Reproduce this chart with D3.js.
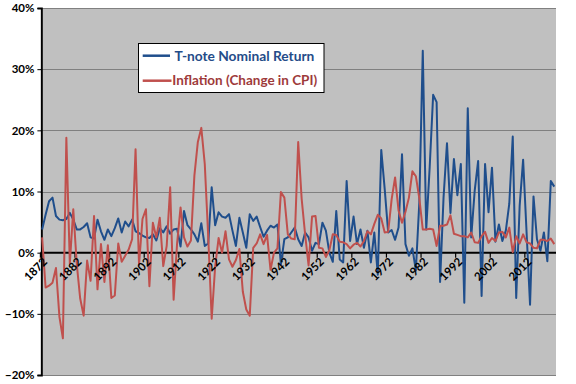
<!DOCTYPE html>
<html>
<head>
<meta charset="utf-8">
<script src="https://cdn.jsdelivr.net/npm/d3@7"></script>
<style>
  body { margin: 0; background: #fff; }
  svg { display: block; font-family: Lato, "Open Sans", sans-serif; }
</style>
</head>
<body>
<svg id="mainsvg" width="576" height="384"></svg>
<script>
// categories: one per year
const years = d3.range(1872, 2021);

// T-note nominal return, % (1872 ... 2020)
const noteReturn = [
  3.8, 6.2, 8.4, 9.0, 6.0, 5.4, 5.3, 5.5, 6.5, 5.4,
  3.8, 3.8, 4.2, 4.8, 2.5, 2.3, 5.4, 3.5, 2.1, 3.8,
  2.7, 4.0, 5.6, 3.3, 5.1, 4.3, 5.4, 3.5, 3.2, 2.8,
  2.5, 2.4, 3.0, 2.0, 4.0, 3.3, 4.3, 3.1, 3.8, 3.9,
  1.0, 6.8, 4.5, 3.8, 3.0, 1.8, 4.8, 1.1, 1.5, 10.7,
  4.5, 6.6, 5.9, 5.7, 6.3, 3.6, 1.1, 5.7, 3.3, 0.8,
  6.3, 5.2, 5.9, 4.2, 2.6, 3.6, 4.4, 4.1, 4.6, -1.9,
  2.2, 2.5, 3.3, 4.1, 2.2, 1.1, 3.3, 2.5, 0.3, 1.6,
  1.4, 4.9, 3.6, 0.0, -1.5, 6.8, -1.1, -1.6, 11.7, 1.9,
  5.9, 1.4, 3.8, 0.8, 3.6, -1.6, 3.3, -3.6, 16.8, 10.4,
  3.3, 3.7, 2.1, 4.1, 16.1, 1.4, -0.5, 0.7, -2.9, 8.2,
  33.0, 3.8, 14.0, 25.8, 24.6, -4.8, 9.0, 17.9, 6.5, 15.3,
  9.4, 14.5, -8.2, 23.6, 2.5, 10.1, 15.0, -7.1, 14.5, 6.6,
  13.9, 1.8, 4.6, 1.9, 3.6, 8.0, 19.0, -7.4, 7.7, 15.2,
  3.3, -8.5, 9.2, 2.2, 0.3, 3.3, -1.4, 11.7, 10.8
];

// Inflation (change in CPI), % (1872 ... 2020)
const inflation = [
  2.5, -5.7, -5.4, -4.9, -2.5, -10.5, -14.0, 18.8, -1.8, 7.1,
  -1.8, -7.5, -10.3, -1.3, -4.6, 6.0, -6.0, 1.4, -4.8, 1.2,
  -7.4, -7.0, 1.5, -1.5, -0.5, 0.5, 2.2, 16.9, -2.0, 5.5,
  7.1, -5.5, 4.9, 2.5, 5.7, -2.2, 1.1, 10.7, -7.7, 1.5,
  7.4, 2.5, 1.0, 2.0, 12.6, 18.1, 20.4, 14.5, 2.6, -10.8,
  -2.3, 2.4, 0.0, 3.5, -1.1, -2.3, -1.2, 0.6, -6.4, -9.3,
  -10.3, 0.8, 1.5, 3.0, 1.4, 2.9, -2.8, 0.0, 0.7, 9.9,
  9.0, 3.0, 2.3, 2.2, 18.1, 8.8, 3.0, -2.1, 5.9, 6.0,
  0.8, 0.7, -0.7, 0.4, 3.0, 2.9, 1.8, 1.7, 1.4, 0.7,
  1.3, 1.6, 1.0, 1.9, 3.5, 3.0, 4.7, 6.2, 5.6, 3.3,
  3.4, 8.7, 12.3, 6.9, 4.9, 6.7, 9.0, 13.3, 12.5, 8.9,
  3.8, 3.8, 3.9, 3.8, 1.1, 4.4, 4.4, 4.6, 6.1, 3.1,
  2.9, 2.7, 2.7, 2.5, 3.3, 1.7, 1.6, 2.7, 3.4, 1.6,
  2.4, 1.9, 3.3, 3.4, 2.5, 4.1, 0.1, 2.7, 1.5, 3.0,
  1.7, 1.5, 0.8, 0.7, 2.1, 2.1, 1.9, 2.3, 1.4
];

// tick labels
const yTicks = [-0.2, -0.1, 0, 0.1, 0.2, 0.3, 0.4];
const xTickYears = [1872, 1882, 1892, 1902, 1912, 1922, 1932, 1942, 1952, 1962, 1972, 1982, 1992, 2002, 2012];

const seriesNames = ["T-note Nominal Return", "Inflation (Change in CPI)"];
const seriesColors = ["#1F4E8C", "#C0504D"];
const legendTextColors = ["#244C88", "#9E3A3A"];

const svg = d3.select('#mainsvg');
const myWidth = +svg.attr('width');
const myHeight = +svg.attr('height');

const margin = { top: 8, right: 20, bottom: 9, left: 40.4 };
const innerWidth = myWidth - margin.left - margin.right;
const innerHeight = myHeight - margin.top - margin.bottom;

// scales
const x = d3.scaleBand()
  .domain(years)
  .range([margin.left, margin.left + innerWidth]);
const xc = (yr) => x(yr) + x.bandwidth() / 2;

const y = d3.scaleLinear()
  .domain([-0.2, 0.4])
  .range([margin.top + innerHeight, margin.top]);

// plot background
svg.append("rect")
  .attr("x", margin.left)
  .attr("y", margin.top)
  .attr("width", innerWidth)
  .attr("height", innerHeight)
  .attr("fill", "#C0C0C0");

// gridlines
svg.append("g")
  .selectAll("line")
  .data(yTicks.filter(d => d !== 0))
  .join("line")
  .attr("x1", margin.left)
  .attr("x2", margin.left + innerWidth)
  .attr("y1", d => Math.round(y(d)) + 0.5)
  .attr("y2", d => Math.round(y(d)) + 0.5)
  .attr("stroke", "#808080")
  .attr("stroke-width", 1);

// y axis
const yAxis = svg.append("g")
  .attr("transform", `translate(${margin.left + 1},0)`)
  .call(d3.axisLeft(y).tickValues(yTicks).tickFormat(d3.format(".0%")).tickSize(4).tickPadding(3));
yAxis.select(".domain").attr("stroke", "#000").attr("stroke-width", 1.8);
yAxis.selectAll(".tick line").attr("stroke", "#000").attr("stroke-width", 1);
yAxis.selectAll("text")
  .attr("font-family", "Lato, sans-serif")
  .attr("font-size", 11.5)
  .attr("font-weight", "bold")
  .attr("fill", "#000");

// zero line + category ticks
svg.append("line")
  .attr("x1", margin.left)
  .attr("x2", margin.left + innerWidth)
  .attr("y1", y(0))
  .attr("y2", y(0))
  .attr("stroke", "#000")
  .attr("stroke-width", 2);

svg.append("g")
  .selectAll("line")
  .data(xTickYears)
  .join("line")
  .attr("x1", d => x(d))
  .attr("x2", d => x(d))
  .attr("y1", y(0))
  .attr("y2", y(0) + 5)
  .attr("stroke", "#000")
  .attr("stroke-width", 1.2);

// lines
const line = d3.line()
  .x((d, i) => xc(years[i]))
  .y(d => y(d / 100));

[noteReturn, inflation].forEach((series, k) => {
  svg.append("path")
    .datum(series)
    .attr("d", line)
    .attr("fill", "none")
    .attr("stroke", seriesColors[k])
    .attr("stroke-width", 2)
    .attr("stroke-linejoin", "round");
});

// year labels (drawn over the lines)
svg.append("g")
  .selectAll("text")
  .data(xTickYears)
  .join("text")
  .attr("transform", d => `translate(${xc(d) + 3},${y(0) + 7}) rotate(-45)`)
  .attr("text-anchor", "end")
  .attr("dy", "0.35em")
  .attr("font-size", 11.5)
  .attr("font-weight", "bold")
  .attr("fill", "#000")
  .text(d => d);

// legend
const legend = svg.append("g");
legend.append("rect")
  .attr("x", 138.5)
  .attr("y", 43.5)
  .attr("width", 185.5)
  .attr("height", 49)
  .attr("fill", "#fff")
  .attr("stroke", "#000")
  .attr("stroke-width", 1);

// text widths taken from the reference legend
const legendRows = [
  { y: 55.7, x2: 170, tx: 174.5, w: 140 },
  { y: 80.7, x2: 171.5, tx: 172.3, w: 145 }
];
legendRows.forEach((r, k) => {
  legend.append("line")
    .attr("x1", 142.7)
    .attr("x2", r.x2)
    .attr("y1", r.y)
    .attr("y2", r.y)
    .attr("stroke", seriesColors[k])
    .attr("stroke-width", 2.5);
  const t = legend.append("text")
    .attr("x", r.tx)
    .attr("y", r.y)
    .attr("dy", "0.35em")
    .attr("font-size", 14)
    .attr("font-weight", "bold")
    .attr("fill", legendTextColors[k])
    .text(seriesNames[k]);
  // fit the label to the width it has in the reference
  const len = t.node().getComputedTextLength();
  t.attr("font-size", 14 * r.w / len);
});
</script>
</body>
</html>
